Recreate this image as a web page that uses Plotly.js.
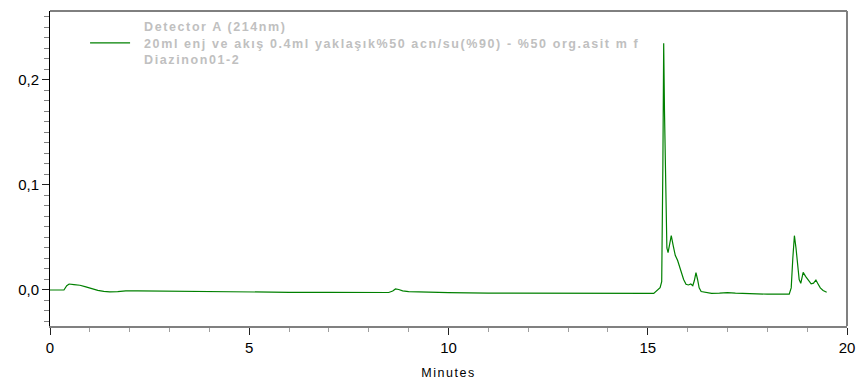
<!DOCTYPE html>
<html>
<head>
<meta charset="utf-8">
<script src="https://cdn.plot.ly/plotly-3.0.1.min.js"></script>
<style>
html,body{margin:0;padding:0;background:#fff;}
#chart{width:858px;height:381px;}
.legendtext{letter-spacing:1.6px;}
.legendlines path{d:path("M5,0h40");}
.xtitle{letter-spacing:1.5px;}
</style>
</head>
<body>
<div id="chart"></div>
<script>
const traceName = "Detector A (214nm)<br>20ml enj ve akış 0.4ml yaklaşık%50 acn/su(%90) - %50 org.asit m f<br>Diazinon01-2";
const minutes = [0, 0.35, 0.42, 0.48, 0.6, 0.75, 0.9, 1.05, 1.2, 1.35, 1.5, 1.7, 1.9, 2.2, 3, 4, 5, 6, 7, 8, 8.5, 8.6, 8.67, 8.75, 8.85, 9.0, 9.3, 10, 11, 12, 13, 14, 15.15, 15.31, 15.35, 15.38, 15.40, 15.42, 15.45, 15.48, 15.51, 15.55, 15.59, 15.64, 15.69, 15.75, 15.83, 15.9, 15.96, 16.02, 16.08, 16.13, 16.17, 16.21, 16.25, 16.29, 16.34, 16.45, 16.6, 16.8, 17.0, 17.2, 17.5, 18.0, 18.55, 18.6, 18.64, 18.68, 18.72, 18.76, 18.8, 18.84, 18.9, 18.96, 19.02, 19.1, 19.16, 19.22, 19.27, 19.33, 19.4, 19.49];
const signal = [0, 0, 0.004, 0.0057, 0.0052, 0.0045, 0.003, 0.0012, -0.0003, -0.0013, -0.0018, -0.0015, -0.0008, -0.0008, -0.0012, -0.0016, -0.002, -0.0022, -0.0023, -0.0024, -0.0024, -0.001, 0.001, 0.0005, -0.0008, -0.0015, -0.002, -0.0026, -0.0029, -0.0031, -0.0032, -0.0033, -0.0033, 0.0022, 0.008, 0.12, 0.235, 0.17, 0.08, 0.04, 0.0355, 0.046, 0.0517, 0.042, 0.033, 0.028, 0.019, 0.010, 0.0055, 0.0048, 0.0057, 0.004, 0.009, 0.0165, 0.010, 0.002, -0.0015, -0.0025, -0.0033, -0.0030, -0.0025, -0.0030, -0.0035, -0.0040, -0.0040, 0.002, 0.03, 0.0517, 0.04, 0.025, 0.010, 0.0063, 0.0168, 0.013, 0.0095, 0.0058, 0.0065, 0.0095, 0.006, 0.002, -0.0005, -0.0022];
const xTickVals = [0, 5, 10, 15, 20];
const yTickVals = [0, 0.1, 0.2];

const trace = {
  x: minutes, y: signal, type: 'scatter', mode: 'lines',
  name: traceName, line: {color: '#008000', width: 1.2}
};
const layout = {
  width: 858, height: 381,
  margin: {l: 50, r: 11, t: 11, b: 55},
  paper_bgcolor: '#fff', plot_bgcolor: '#fff',
  separators: ', ',
  font: {family: '"Liberation Sans", Arial, sans-serif', color: '#000'},
  showlegend: true,
  legend: {
    x: 0.044, y: 0.997, xanchor: 'left', yanchor: 'top', itemwidth: 49,
    bgcolor: 'rgba(0,0,0,0)', borderwidth: 0,
    font: {size: 12.5, color: '#c0c0c0', weight: 'bold', family: '"Liberation Sans", Arial, sans-serif'}
  },
  xaxis: {
    range: [0, 20], tickvals: xTickVals, ticks: 'outside', ticklen: 7, tickwidth: 1,
    tickcolor: '#222', showline: true, linecolor: '#808080', linewidth: 2,
    showgrid: false, zeroline: false, tickfont: {size: 15},
    minor: {dtick: 1, ticks: 'outside', ticklen: 4, tickcolor: '#a0a0a0', showgrid: false},
    title: {text: 'Minutes', font: {size: 12.5}, standoff: 13}
  },
  yaxis: {
    range: [-0.0343, 0.2657], tickvals: yTickVals, tickformat: '.1f', ticks: 'outside', ticklen: 7,
    tickwidth: 1, tickcolor: '#222', showline: true, linecolor: '#000', linewidth: 1,
    showgrid: false, zeroline: false, tickfont: {size: 15},
    minor: {dtick: 0.01, ticks: 'outside', ticklen: 5, tickcolor: '#808080', showgrid: false}
  },
  shapes: [
    {type: 'line', xref: 'paper', yref: 'paper', x0: 0, x1: 1, y0: 1, y1: 1, line: {color: '#000', width: 1}},
    {type: 'line', xref: 'paper', yref: 'paper', x0: 1, x1: 1, y0: 0, y1: 1, line: {color: '#808080', width: 2}}
  ]
};
Plotly.newPlot('chart', [trace], layout, {displayModeBar: false, staticPlot: true});
</script>
</body>
</html>
